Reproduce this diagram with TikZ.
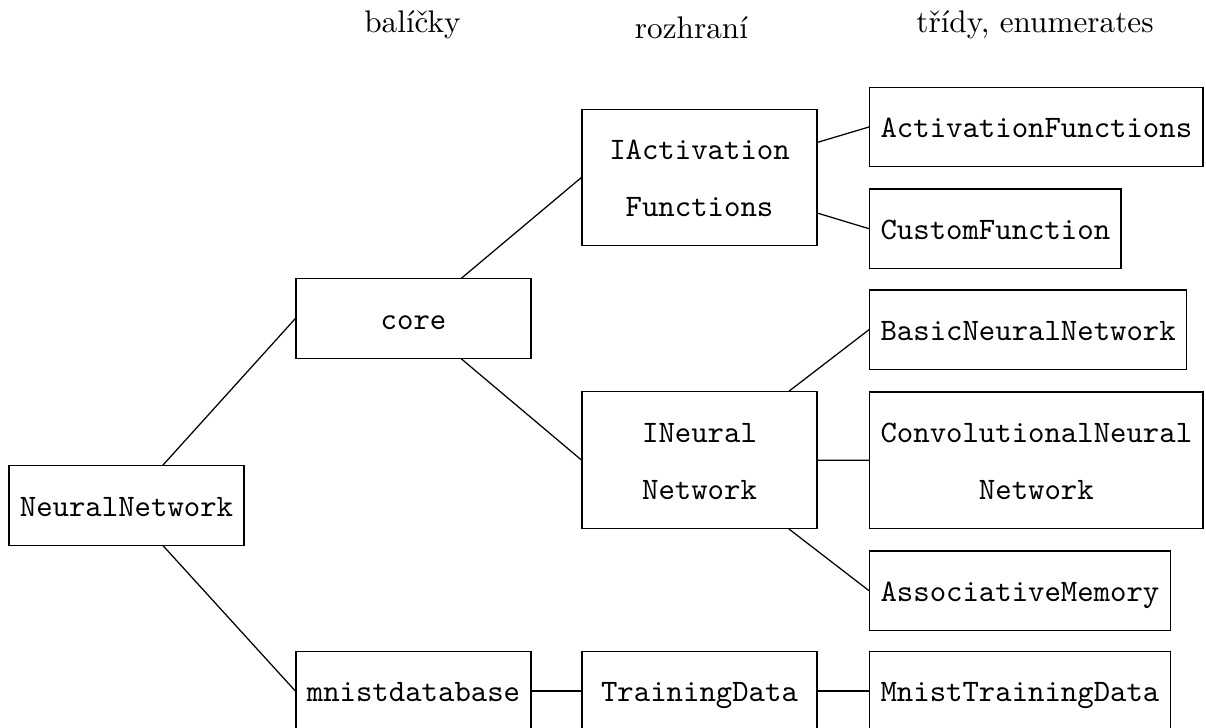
\documentclass[tikz,border=0pt]{standalone}
\usepackage{fontspec}
\begin{document}
\begin{tikzpicture}[
  x=0.3201pt, y=-0.3201pt,
  box/.style={draw, font=\ttfamily, inner sep=3.5pt,
    minimum width=75.2pt, minimum height=25.4pt,
    text height=9pt, text depth=2pt},
  twoline/.style={draw, font=\ttfamily, inner sep=3.5pt, align=center,
    minimum width=75.2pt, minimum height=43.7pt},
  leaf/.style={box, anchor=west},
  leaftwo/.style={twoline, anchor=west},
  head/.style={font=\rmfamily, anchor=base, inner sep=0pt},
  link/.style={draw, line width=0.4pt}
]
\useasboundingbox (0,0) rectangle (1206,728);

% column titles
\node[head] (hpkg) at (412.5,33) {balíčky};
\node[head] (hint) at (691.5,39) {rozhraní};
\node[head] (hcls) at (1035,33) {třídy, enumerates};

% root and packages
\node[box] (nn) at (126.5,505.5) {NeuralNetwork};
\node[box] (core) at (413.5,318.5) {core};
\node[box] (mnist) at (413.5,691) {mnistdatabase};

% interfaces
\node[twoline] (iact) at (699.5,177.5)
  {\rule{0pt}{9pt}IActivation\\[6.25pt]Functions\rule[-2pt]{0pt}{2pt}};
\node[twoline] (ineur) at (699.5,460)
  {\rule{0pt}{9pt}INeural\\[6.25pt]Network\rule[-2pt]{0pt}{2pt}};
\node[box] (train) at (699.5,691) {TrainingData};

% classes and enums
\node[leaf] (actfun) at (869,127) {ActivationFunctions};
\node[leaf] (custfun) at (869,228.7) {CustomFunction};
\node[leaf] (basic) at (869,329.7) {BasicNeuralNetwork};
\node[leaftwo] (conv) at (869,460.3)
  {\rule{0pt}{9pt}ConvolutionalNeural\\[6.25pt]Network\rule[-2pt]{0pt}{2pt}};
\node[leaf] (assoc) at (869,590.7) {AssociativeMemory};
\node[leaf] (mtrain) at (869,691) {MnistTrainingData};

% tree edges: parent border towards child west side
\draw[link] (nn) -- (core.west);
\draw[link] (nn) -- (mnist.west);
\draw[link] (core) -- (iact.west);
\draw[link] (core) -- (ineur.west);
\draw[link] (mnist) -- (train.west);
\draw[link] (iact) -- (actfun.west);
\draw[link] (iact) -- (custfun.west);
\draw[link] (ineur) -- (basic.west);
\draw[link] (ineur) -- (conv.west);
\draw[link] (ineur) -- (assoc.west);
\draw[link] (train) -- (mtrain.west);
\end{tikzpicture}
\end{document}
